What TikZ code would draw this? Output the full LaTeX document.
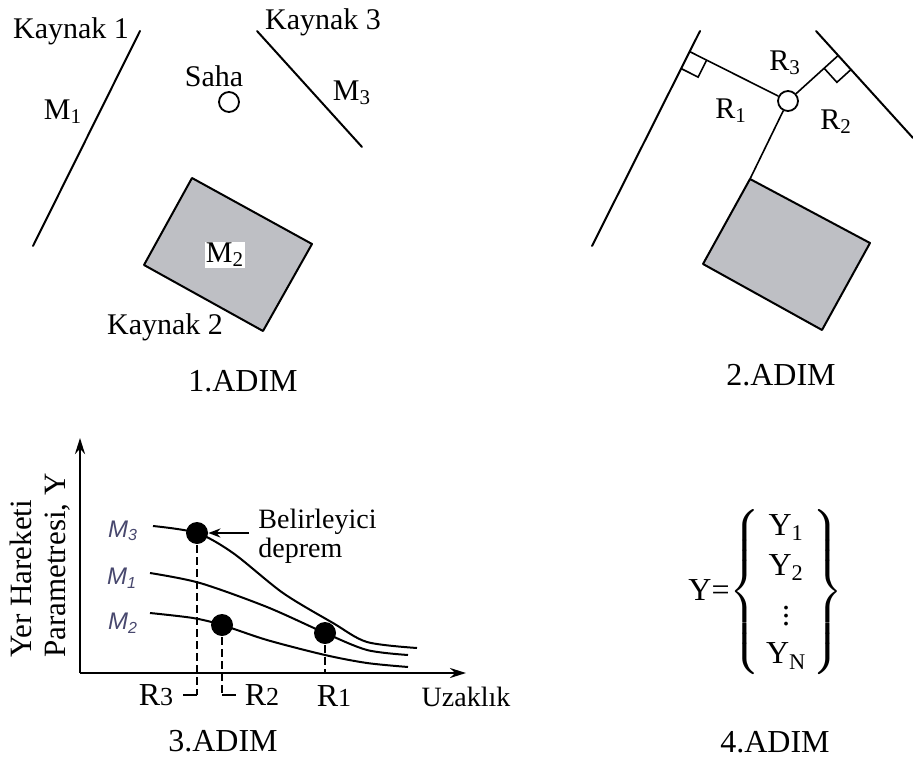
\documentclass[tikz,border=0pt]{standalone}
\usepackage{amsmath}
\usepackage{fontspec}
\setmainfont{Liberation Serif}
\newfontfamily\magfont{Liberation Sans}
\usetikzlibrary{arrows.meta,calc,positioning}
\definecolor{zonegray}{RGB}{190,191,196}
\definecolor{maglbl}{RGB}{72,72,110}

\begin{document}
\begin{tikzpicture}[x=0.5pt, y=-0.5pt, >=Stealth,
		fault/.style={line width=1pt, line cap=round},
		zone/.style={draw=black, line width=1pt, fill=zonegray, line join=round},
		site/.style={circle, draw=black, line width=0.9pt, fill=white, minimum size=10pt, inner sep=0pt},
		lbl/.style={font=\fontsize{15}{18}\selectfont, inner sep=1pt},
		steplbl/.style={font=\fontsize{16}{19}\selectfont, inner sep=1pt},
		perp/.style={line width=0.8pt},
		axis/.style={line width=1.2pt, -{Stealth[length=8pt, width=5pt]}},
		curve/.style={line width=1pt},
		dot/.style={circle, fill=black, minimum size=11pt, inner sep=0pt},
		guide/.style={line width=0.8pt, dash pattern=on 4pt off 2pt},
		tick/.style={line width=0.8pt},
		maglabel/.style={font=\magfont\itshape\fontsize{12}{14}\selectfont, text=maglbl, inner sep=1pt},
		smalllbl/.style={font=\fontsize{14}{14.5}\selectfont, inner sep=1pt},
		rlbl/.style={font=\fontsize{16}{18}\selectfont, inner sep=1pt},
		pointer/.style={line width=1pt, -{Stealth[length=6pt, width=4.5pt]}}]
	
	\useasboundingbox (0,0) rectangle (913,758);
	
	% 1. adim: kaynaklar ve saha
	\coordinate (k1a) at (140,31);
	\coordinate (k1b) at (33,246);
	\coordinate (k3a) at (257,31);
	\coordinate (k3b) at (362,147);
	\draw[fault] (k1a) -- (k1b);
	\draw[fault] (k3a) -- (k3b);
	\draw[zone] (192,178) -- (312,244) -- (263,331) -- (144,265) -- cycle;
	\node[site] (saha) at (229,102) {};
	\node[lbl] (sahalbl) at (214,76) {Saha};
	\node[lbl] (kay1) at (71,31) {Kaynak 1};
	\node[lbl] (kay3) at (323,22) {Kaynak 3};
	\node[lbl] (kay2) at (165,327) {Kaynak 2};
	\node[lbl] (m1) at (63,112) {M\textsubscript{1}};
	\node[lbl] (m3) at (352,93) {M\textsubscript{3}};
	\node[lbl, fill=white, inner sep=0.5pt] (m2) at (225,255) {M\textsubscript{2}};
	\node[steplbl] (adim1) at (243,381) {1.ADIM};
	
	% 2. adim: uzakliklar
	\coordinate (l1a) at (700,31);
	\coordinate (l1b) at (592,246);
	\coordinate (l3a) at (816,31);
	\coordinate (l3b) at (913,138);
	\coordinate (rc) at (750,179);
	\draw[fault] (l1a) -- (l1b);
	\draw[fault] (l3a) -- (l3b);
	\draw[zone] (rc) -- (870,243) -- (822,330) -- (703,264) -- cycle;
	\node[site] (saha2) at (788,101) {};
	\coordinate (f1) at ($(l1a)!(saha2)!(l1b)$);
	\coordinate (f2) at ($(l3a)!(saha2)!(l3b)$);
	\draw[perp] (saha2) -- (f1);
	\draw[perp] (saha2) -- (f2);
	\draw[perp] (saha2) -- (rc);
	% dik aci isaretleri
	\coordinate (f1u) at ($(f1)!9.5pt!(l1b)$);
	\coordinate (f1v) at ($(f1)!9.5pt!(saha2)$);
	\draw[perp] (f1u) -- ($(f1u)+(f1v)-(f1)$) -- (f1v);
	\coordinate (f2u) at ($(f2)!9.5pt!(l3b)$);
	\coordinate (f2v) at ($(f2)!9.5pt!(saha2)$);
	\draw[perp] (f2u) -- ($(f2u)+(f2v)-(f2)$) -- (f2v);
	\node[lbl] (r1) at (731,111) {R\textsubscript{1}};
	\node[lbl] (r2) at (836,122) {R\textsubscript{2}};
	\node[lbl] (r3) at (785,63) {R\textsubscript{3}};
	\node[steplbl] (adim2) at (781,375) {2.ADIM};
	
	% 3. adim: azalim iliskisi
	\coordinate (o) at (80,673);
	\coordinate (ytip) at (80,438);
	\coordinate (xtip) at (466,673);
	\draw[axis] (o) -- (ytip);
	\draw[axis] (o) -- (xtip);
	\draw[curve] plot[smooth] coordinates {(153,526) (197,533) (233,553) (283,593) (333,623) (367,642) (417,648)};
	\draw[curve] plot[smooth] coordinates {(150,573) (200,583) (267,607) (325,633) (367,650) (408,655)};
	\draw[curve] plot[smooth] coordinates {(150,613) (193,618) (222,625) (267,640) (325,655) (367,663) (408,667)};
	\coordinate (r3c) at (197,695);
	\coordinate (r2c) at (222,695);
	\coordinate (r1c) at (325,673);
	\draw[guide] (197,533) -- (r3c);
	\draw[guide] (222,625) -- (r2c);
	\draw[guide] (325,633) -- (r1c);
	\draw[tick] (r3c) -- ++(-14,0);
	\draw[tick] (r2c) -- ++(14,0);
	\node[dot] (d3) at (197,533) {};
	\node[dot] (d2) at (222,625) {};
	\node[dot] (d1) at (325,633) {};
	\node[maglabel] (mg3) at (123,531) {M\textsubscript{3}};
	\node[maglabel] (mg1) at (122,578) {M\textsubscript{1}};
	\node[maglabel] (mg2) at (123,623) {M\textsubscript{2}};
	\coordinate (ptail) at (249,533);
	\draw[pointer] (ptail) -- (d3);
	\node[smalllbl, anchor=west, align=left] (belir) at (256,536) {Belirleyici\\deprem};
	\node[lbl, rotate=90, anchor=west, align=left, inner sep=0pt,
		font=\fontsize{15.5}{17}\selectfont] (ylbl) at (40,658) {Yer Hareketi\\Parametresi, Y};
	\node[rlbl] (rr3) at (156,695) {R{\fontsize{13}{13}\selectfont 3}};
	\node[rlbl] (rr2) at (262,695) {R{\fontsize{13}{13}\selectfont 2}};
	\node[rlbl] (rr1) at (334,696) {R{\fontsize{13}{13}\selectfont 1}};
	\node[smalllbl] (uzak) at (466,697) {Uzaklık};
	\node[steplbl] (adim3) at (223,741) {3.ADIM};
	
	% 4. adim: olasilik dagilimi
	\node[steplbl, anchor=west] (yset) at (686,592)
		{Y=$\left\{\begin{array}{@{\,}c@{\,}}
			\text{Y\textsubscript{1}}\\[1pt]
			\text{Y\textsubscript{2}}\\[4pt]
			\vdots\\[0pt]
			\text{Y\textsubscript{N}}
		\end{array}\right\}$};
	\node[steplbl] (adim4) at (775,742) {4.ADIM};
	
\end{tikzpicture}
\end{document}
